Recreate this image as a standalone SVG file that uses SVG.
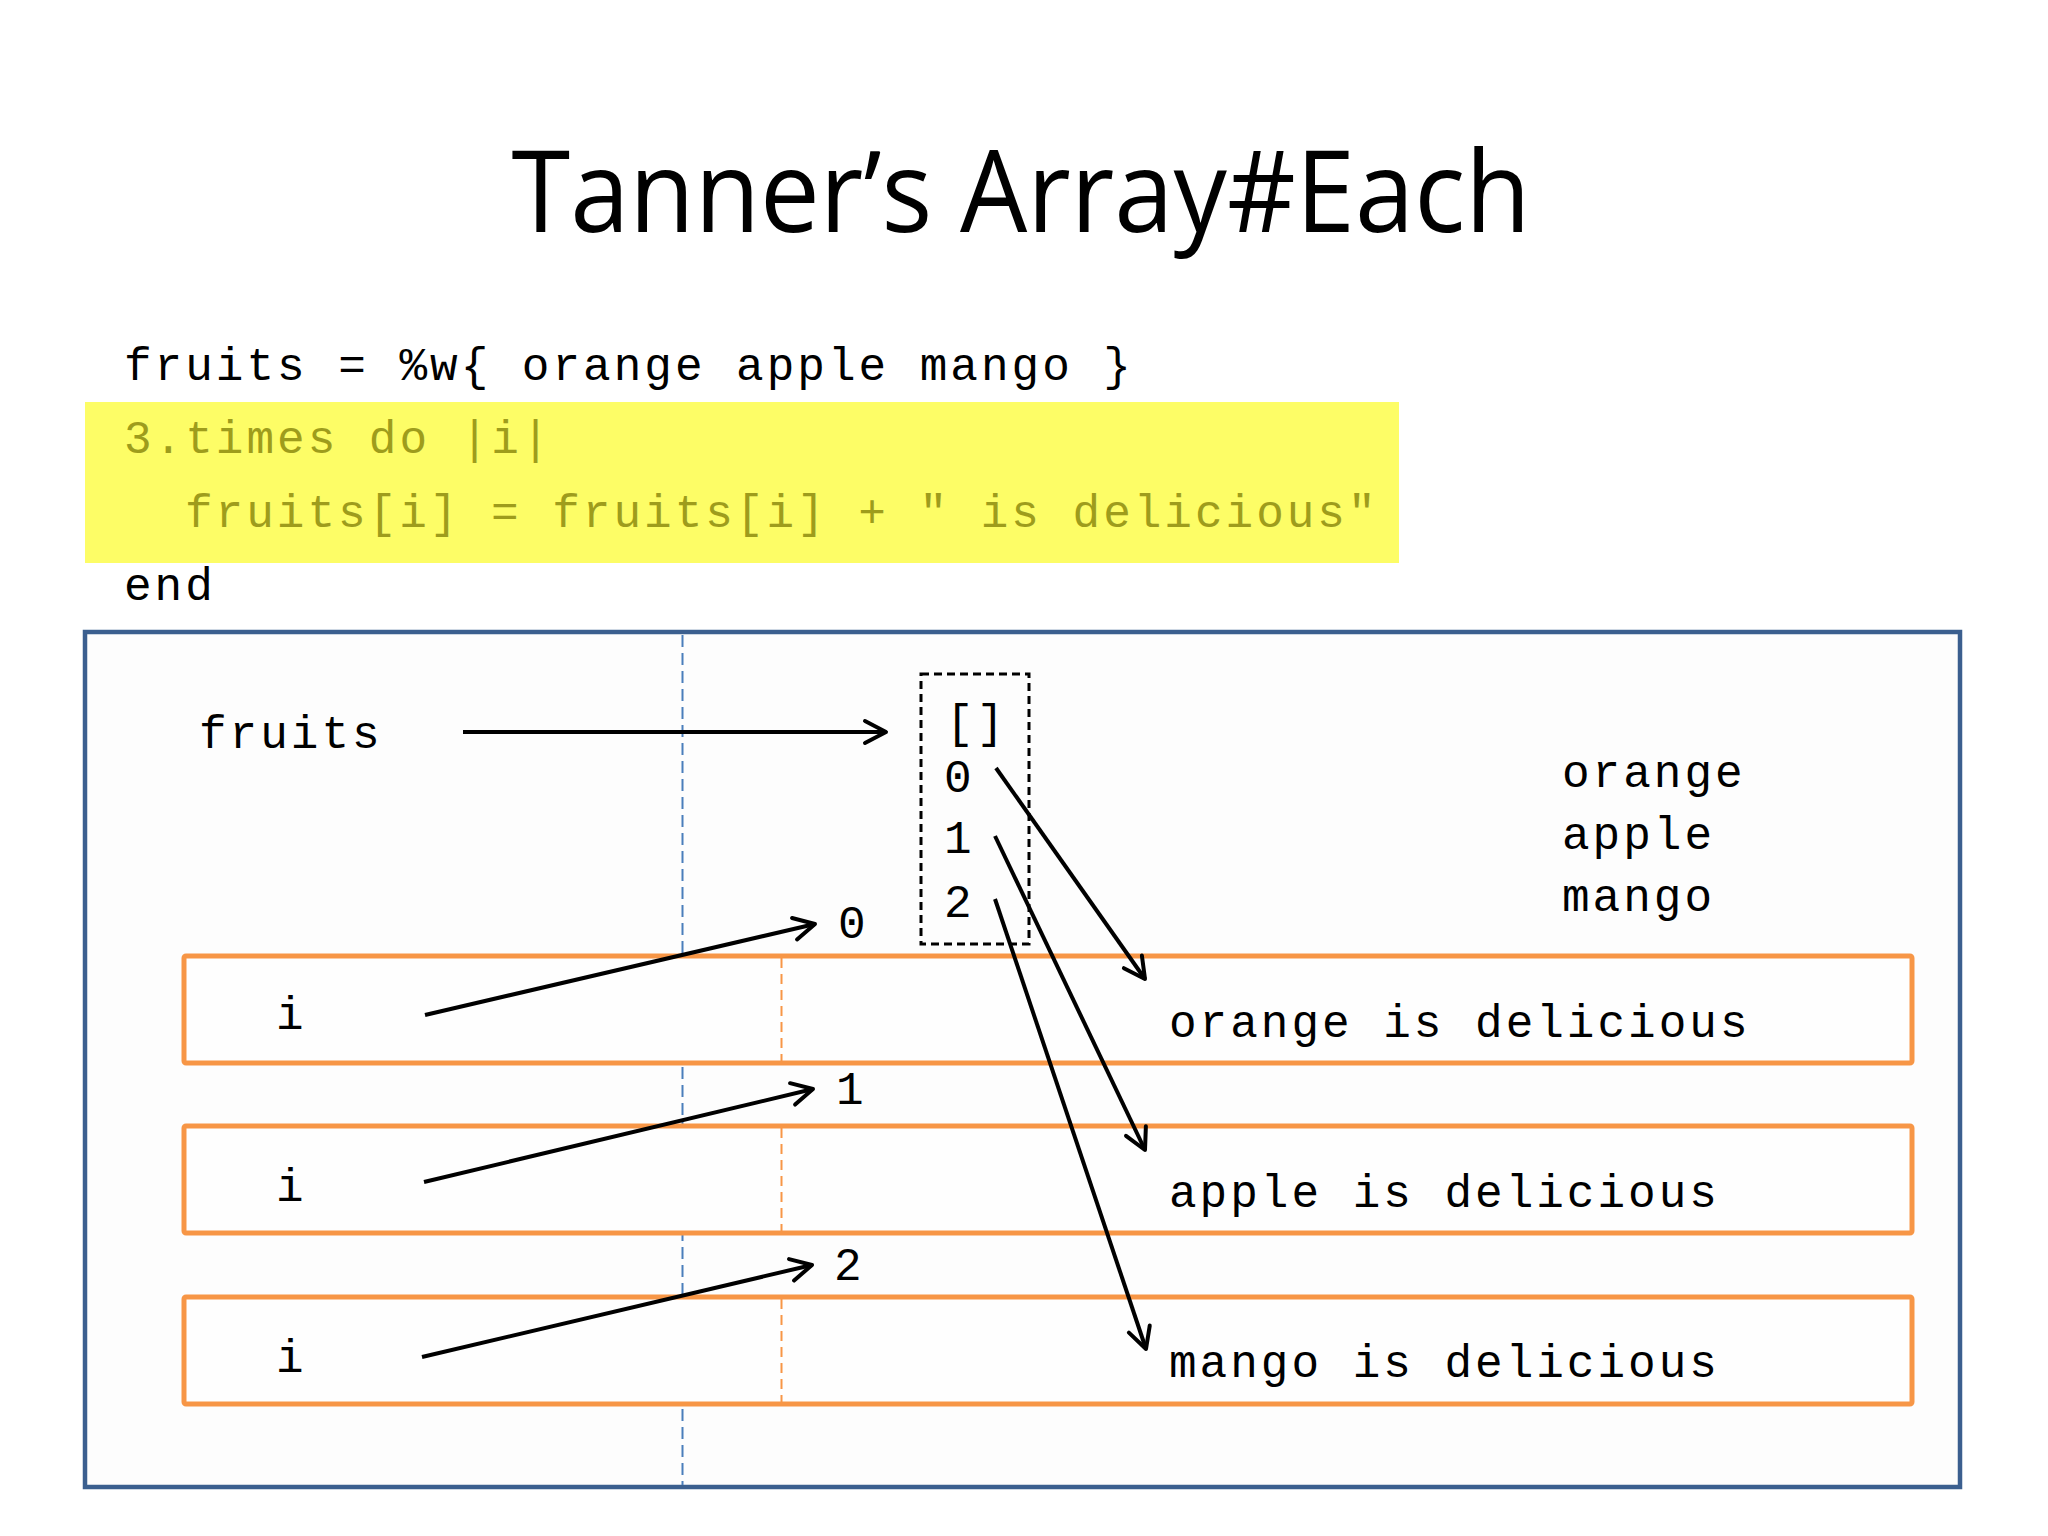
<svg xmlns="http://www.w3.org/2000/svg" width="2048" height="1536" viewBox="0 0 2048 1536">
<style>
.code{font-family:"Liberation Mono","Courier New",monospace;font-size:46px;letter-spacing:3px;fill:#000}
.hl{fill:#9e9c1c}
.title{font-family:"Open Sans","Liberation Sans",sans-serif;font-size:114px;fill:#000}
.obox{fill:#fefefe;stroke:#f79646;stroke-width:5}
.odash{stroke:#f79646;stroke-width:2;stroke-dasharray:10 6;fill:none}
.arr{stroke:#000;stroke-width:4;fill:none;marker-end:url(#open)}
</style>
<defs>
<marker id="open" markerUnits="userSpaceOnUse" viewBox="-26 -16 32 32" markerWidth="32" markerHeight="32" refX="0" refY="0" orient="auto" overflow="visible">
<path d="M-21,-11 L0,0 L-21,11" fill="none" stroke="#000" stroke-width="4" stroke-linejoin="round" stroke-linecap="round"/>
</marker>
</defs>
<rect width="2048" height="1536" fill="#ffffff"/>
<g id="title">
<text class="title" x="1021" y="232" text-anchor="middle" textLength="1019" lengthAdjust="spacingAndGlyphs">Tanner’s Array#Each</text>
</g>
<g id="code">
<rect x="85" y="402" width="1314" height="161" fill="#fdfd66"/>
<text class="code" x="124" y="380">fruits = %w{ orange apple mango }</text>
<text class="code hl" x="124" y="453">3.times do |i|</text>
<text class="code hl" x="185" y="527">fruits[i] = fruits[i] + " is delicious"</text>
<text class="code" x="124" y="600">end</text>
</g>
<g id="frame">
<rect x="85" y="632" width="1875" height="855" fill="#fdfdfd" stroke="#3b5f8f" stroke-width="4.5"/>
<line x1="682.5" y1="635" x2="682.5" y2="1485" stroke="#4a7ebb" stroke-width="2" stroke-dasharray="12 6"/>
</g>
<g id="row0">
<rect class="obox" x="184" y="956" width="1728" height="107" rx="2"/>
<line class="odash" x1="781.5" y1="958" x2="781.5" y2="1061"/>
<text class="code" x="276" y="1029">i</text>
<text class="code" x="1169" y="1037">orange is delicious</text>
</g>
<g id="row1">
<rect class="obox" x="184" y="1126" width="1728" height="107" rx="2"/>
<line class="odash" x1="781.5" y1="1128" x2="781.5" y2="1231"/>
<text class="code" x="276" y="1201">i</text>
<text class="code" x="1169" y="1207">apple is delicious</text>
</g>
<g id="row2">
<rect class="obox" x="184" y="1297" width="1728" height="107" rx="2"/>
<line class="odash" x1="781.5" y1="1299" x2="781.5" y2="1402"/>
<text class="code" x="276" y="1372">i</text>
<text class="code" x="1169" y="1377">mango is delicious</text>
</g>
<g id="fruits-label">
<text class="code" x="199" y="748">fruits</text>
</g>
<g id="array">
<rect x="921" y="674" width="108" height="270" fill="none" stroke="#000" stroke-width="3" stroke-dasharray="8 5"/>
<text class="code" x="946" y="737">[]</text>
<text class="code" x="944" y="792">0</text>
<text class="code" x="944" y="853">1</text>
<text class="code" x="944" y="917">2</text>
</g>
<g id="values">
<text class="code" x="1562" y="787">orange</text>
<text class="code" x="1562" y="849">apple</text>
<text class="code" x="1562" y="911">mango</text>
</g>
<g id="indices">
<text class="code" x="838" y="938">0</text>
<text class="code" x="836" y="1104">1</text>
<text class="code" x="834" y="1280">2</text>
</g>
<g id="connectors">
<path class="arr" d="M463,732 L886,732"/>
<path class="arr" d="M425,1015 L815,924"/>
<path class="arr" d="M424,1182 L813,1089"/>
<path class="arr" d="M422,1357 L812,1265"/>
<path class="arr" d="M996,768 L1145,979"/>
<path class="arr" d="M995,836 L1145,1150"/>
<path class="arr" d="M995,899 L1146,1349"/>
</g>
</svg>
